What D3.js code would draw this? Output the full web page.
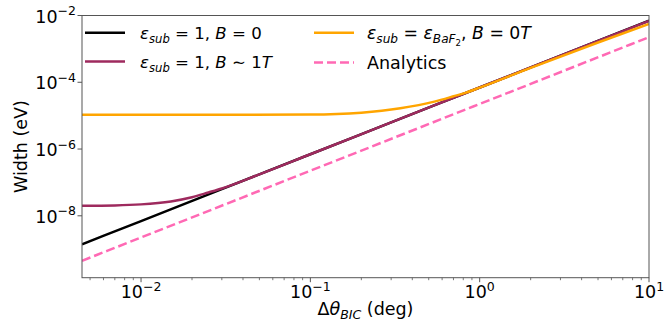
<!DOCTYPE html>
<html><head><meta charset="utf-8">
<script src="https://cdn.jsdelivr.net/npm/d3@7"></script>
<style>body{margin:0;background:#fff}text{font-family:"DejaVu Sans",sans-serif;fill:#000}</style>
</head><body><svg id="c" width="665" height="330"></svg>
<script>
const xDomain = [0.00448, 10];
const yDomain = [1.4e-10, 1e-2];
const xTicks = [0.01, 0.1, 1, 10];
const xTickExp = ["−2", "−1", "0", "1"];
const yTicks = [1e-8, 1e-6, 1e-4, 1e-2];
const yTickExp = ["−8", "−6", "−4", "−2"];

const thetaBlack = [0.00448, 0.01, 0.03, 0.1, 0.3, 1, 3, 10];
const widthBlack = [1.40e-9, 6.97e-9, 6.27e-8, 6.97e-7, 6.27e-6, 6.97e-5, 6.27e-4, 6.97e-3];

const thetaPurple = [0.00448, 0.007, 0.01, 0.015, 0.02, 0.025, 0.03, 0.05, 0.1, 0.3, 1, 3, 10];
const widthPurple = [2.0e-8, 2.05e-8, 2.2e-8, 2.7e-8, 3.6e-8, 5.0e-8, 6.6e-8, 1.74e-7, 6.97e-7, 6.27e-6, 6.97e-5, 6.27e-4, 6.9e-3];

const thetaOrange = [0.00448, 0.01, 0.03, 0.1, 0.2, 0.34, 0.54, 0.7, 0.83, 1, 2, 5, 10];
const widthOrange = [1.07e-5, 1.06e-5, 1.06e-5, 1.08e-5, 1.23e-5, 1.66e-5, 2.63e-5, 3.8e-5, 4.9e-5, 6.9e-5, 2.7e-4, 1.55e-3, 5.6e-3];

const thetaAnalytic = [0.00448, 0.01, 0.1, 1, 10];
const widthAnalytic = [4.5e-10, 2.24e-9, 2.24e-7, 2.24e-5, 2.24e-3];

const colBlack = "#000000", colPurple = "#9e2a5e", colOrange = "#ffa500", colPink = "#ff69b4";

const svg = d3.select("#c");
const L = 82, R = 649, T = 15.5, B = 277.7;
const x = d3.scaleLog().domain(xDomain).range([L, R]);
const y = d3.scaleLog().domain(yDomain).range([B, T]);

svg.append("clipPath").attr("id", "clip").append("rect")
  .attr("x", L).attr("y", T).attr("width", R - L).attr("height", B - T);

const line = d3.line().x(d => x(d[0])).y(d => y(d[1])).curve(d3.curveMonotoneX);
const g = svg.append("g").attr("clip-path", "url(#clip)");
function draw(xs, ys, col, dash) {
  g.append("path").datum(xs.map((v, i) => [v, ys[i]]))
    .attr("d", line).attr("fill", "none").attr("stroke", col)
    .attr("stroke-width", 2.5).attr("stroke-dasharray", dash || null);
}
draw(thetaBlack, widthBlack, colBlack);
draw(thetaPurple, widthPurple, colPurple);
draw(thetaOrange, widthOrange, colOrange);
draw(thetaAnalytic, widthAnalytic, colPink, "9,4");

const axCol = "#555";
svg.append("rect").attr("x", L).attr("y", T).attr("width", R - L).attr("height", B - T)
  .attr("fill", "none").attr("stroke", axCol).attr("stroke-width", 1);

const xMinor = [];
for (let e = -3; e <= 0; e++) for (let m = 2; m <= 9; m++) {
  const v = m * Math.pow(10, e);
  if (v >= xDomain[0] && v <= xDomain[1]) xMinor.push(v);
}
svg.selectAll(".xmin").data(xMinor).enter().append("line")
  .attr("x1", d => x(d)).attr("x2", d => x(d)).attr("y1", B).attr("y2", B + 2.5)
  .attr("stroke", axCol).attr("stroke-width", 0.8);
svg.selectAll(".xmaj").data(xTicks).enter().append("line")
  .attr("x1", d => x(d)).attr("x2", d => x(d)).attr("y1", B).attr("y2", B + 4.5)
  .attr("stroke", axCol).attr("stroke-width", 1);
xTicks.forEach((v, i) => {
  const t = svg.append("text").attr("x", x(v)).attr("y", B + 20.5).attr("text-anchor", "middle")
    .attr("font-size", 17.5);
  t.append("tspan").text("10");
  t.append("tspan").attr("font-size", 12.5).attr("dy", -7.5).text(xTickExp[i]);
});

svg.selectAll(".ymaj").data(yTicks).enter().append("line")
  .attr("x1", L - 4.5).attr("x2", L).attr("y1", d => y(d)).attr("y2", d => y(d))
  .attr("stroke", axCol).attr("stroke-width", 1);
yTicks.forEach((v, i) => {
  const t = svg.append("text").attr("x", L - 6).attr("y", y(v) + 7).attr("text-anchor", "end")
    .attr("font-size", 17.5);
  t.append("tspan").text("10");
  t.append("tspan").attr("font-size", 12.5).attr("dy", -7.5).text(yTickExp[i]);
});

const xl = svg.append("text").attr("x", (L + R) / 2).attr("y", 315).attr("text-anchor", "middle").attr("font-size", 17.5);
xl.append("tspan").text("Δ");
xl.append("tspan").attr("font-style", "italic").text("θ");
xl.append("tspan").attr("font-style", "italic").attr("font-size", 12.5).attr("dy", 4).text("BIC");
xl.append("tspan").attr("dy", -4).text(" (deg)");

svg.append("text").attr("transform", `translate(27,${(T + B) / 2}) rotate(-90)`)
  .attr("text-anchor", "middle").attr("font-size", 17.5).text("Width (eV)");

function mathLabel(xp, yp, parts, fs) {
  const t = svg.append("text").attr("x", xp).attr("y", yp).attr("font-size", fs);
  let cur = 0;
  parts.forEach(p => {
    const [txt, st] = p;
    const target = st === "sub" ? 4 : st === "subsub" ? 7 : 0;
    const s = t.append("tspan").text(txt).attr("dy", target - cur);
    cur = target;
    if (st === "i" || st === "sub" || st === "subsub") s.attr("font-style", "italic");
    if (st === "sub") s.attr("font-size", fs * 0.7);
    if (st === "subsub") s.attr("font-size", fs * 0.5).attr("font-style", "normal");
  });
}
const legend = [
  { x1: 85, x2: 125, y: 32.7, col: colBlack, dash: null, tx: 140, fs: 16.6,
    parts: [["ε", "i"], ["sub", "sub"], [" = 1, ", "n"], ["B", "i"], [" = 0", "n"]] },
  { x1: 85, x2: 125, y: 61.5, col: colPurple, dash: null, tx: 140, fs: 16.6,
    parts: [["ε", "i"], ["sub", "sub"], [" = 1, ", "n"], ["B", "i"], [" ∼ 1", "n"], ["T", "i"]] },
  { x1: 314, x2: 354, y: 32.7, col: colOrange, dash: null, tx: 367, fs: 17.3,
    parts: [["ε", "i"], ["sub", "sub"], [" = ", "n"], ["ε", "i"], ["BaF", "sub"], ["2", "subsub"], [", ", "n"], ["B", "i"], [" = 0", "n"], ["T", "i"]] },
  { x1: 314, x2: 354, y: 62.5, col: colPink, dash: "9,4", tx: 367, fs: 17.5,
    parts: [["Analytics", "n"]] }
];
legend.forEach(l => {
  svg.append("line").attr("x1", l.x1).attr("x2", l.x2).attr("y1", l.y).attr("y2", l.y)
    .attr("stroke", l.col).attr("stroke-width", 2.5).attr("stroke-dasharray", l.dash);
  mathLabel(l.tx, l.y + 6, l.parts, l.fs);
});
</script></body></html>
